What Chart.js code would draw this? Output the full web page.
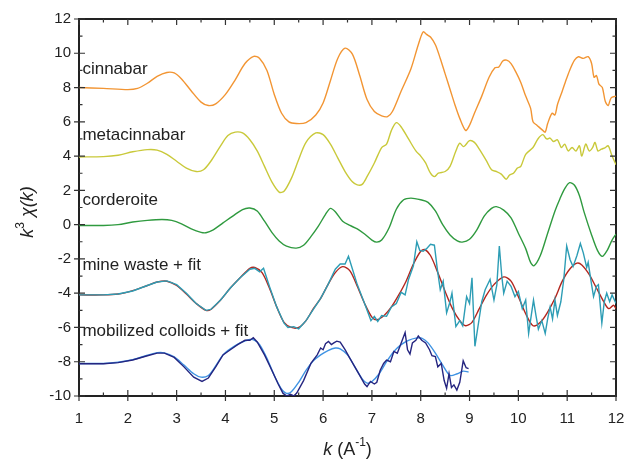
<!DOCTYPE html>
<html>
<head>
<meta charset="utf-8">
<script src="https://cdn.jsdelivr.net/npm/chart.js@4.4.1/dist/chart.umd.min.js"></script>
<style>
  html, body { margin: 0; padding: 0; background: #fff; }
  #wrap { width: 627px; height: 460px; }
</style>
</head>
<body>
<div id="wrap"><canvas id="chart" width="627" height="460"></canvas></div>
<script>
// ---- data ----
const xTicks = [1, 2, 3, 4, 5, 6, 7, 8, 9, 10, 11, 12];
const yTicks = [-10, -8, -6, -4, -2, 0, 2, 4, 6, 8, 10, 12];

const cinnabarK = [1.0, 1.5, 2.0, 2.2, 2.4, 2.6, 2.8, 2.95, 3.1, 3.3, 3.5, 3.65, 3.8, 4.0, 4.2, 4.4, 4.58, 4.7, 4.85, 5.0, 5.15, 5.3, 5.45, 5.65, 5.85, 6.0, 6.15, 6.3, 6.45, 6.6, 6.75, 6.9, 7.05, 7.2, 7.32, 7.42, 7.6, 7.8, 7.95, 8.05, 8.12, 8.2, 8.3, 8.4, 8.5, 8.6, 8.7, 8.8, 8.92, 9.0, 9.1, 9.25, 9.4, 9.52, 9.6, 9.68, 9.76, 9.85, 9.95, 10.05, 10.15, 10.25, 10.3, 10.38, 10.5, 10.55, 10.6, 10.69, 10.75, 10.8, 10.9, 10.96, 11.05, 11.15, 11.23, 11.33, 11.43, 11.5, 11.55, 11.6, 11.65, 11.72, 11.78, 11.84, 11.9, 12.0];
const cinnabarY = [8.0, 7.95, 7.88, 7.95, 8.25, 8.65, 8.88, 8.85, 8.5, 7.8, 7.15, 6.95, 7.05, 7.6, 8.45, 9.4, 9.82, 9.7, 9.0, 7.6, 6.5, 6.0, 5.9, 5.95, 6.4, 7.1, 8.4, 9.7, 10.3, 9.95, 8.7, 7.3, 6.6, 6.35, 6.3, 6.6, 7.8, 9.1, 10.5, 11.25, 11.1, 10.95, 10.5, 9.7, 8.8, 7.9, 7.0, 6.2, 5.5, 5.8, 6.5, 7.5, 8.6, 9.15, 9.2, 9.55, 9.6, 9.4, 8.9, 8.3, 7.5, 6.8, 6.0, 5.8, 5.5, 5.4, 5.9, 6.5, 6.4, 7.0, 7.8, 8.3, 9.0, 9.6, 9.8, 9.7, 9.8, 9.4, 8.6, 8.7, 8.2, 8.0, 7.2, 6.95, 7.4, 7.5];

const metaK = [1.0, 1.5, 1.8, 2.1, 2.4, 2.6, 2.8, 3.0, 3.2, 3.4, 3.55, 3.7, 3.9, 4.05, 4.2, 4.35, 4.5, 4.65, 4.8, 4.95, 5.1, 5.2, 5.35, 5.5, 5.65, 5.85, 6.0, 6.15, 6.3, 6.45, 6.6, 6.7, 6.8, 6.9, 7.05, 7.2, 7.3, 7.4, 7.5, 7.6, 7.75, 7.9, 8.0, 8.1, 8.2, 8.28, 8.36, 8.5, 8.6, 8.72, 8.8, 8.88, 9.0, 9.1, 9.2, 9.35, 9.45, 9.55, 9.65, 9.75, 9.82, 9.9, 9.98, 10.05, 10.15, 10.3, 10.4, 10.5, 10.58, 10.65, 10.72, 10.8, 10.88, 10.95, 11.02, 11.1, 11.18, 11.25, 11.3, 11.38, 11.45, 11.52, 11.57, 11.63, 11.7, 11.78, 11.84, 11.92, 12.0];
const metaY = [3.95, 3.97, 4.05, 4.25, 4.38, 4.35, 4.1, 3.7, 3.3, 3.1, 3.2, 3.7, 4.6, 5.2, 5.4, 5.35, 4.95, 4.3, 3.4, 2.5, 1.9, 1.95, 2.7, 3.8, 4.8, 5.35, 5.25, 4.7, 3.9, 3.1, 2.5, 2.32, 2.35, 2.8, 3.6, 4.5, 4.7, 5.5, 5.95, 5.7, 5.0, 4.3, 4.0, 3.6, 3.0, 2.8, 3.0, 3.1, 3.4, 4.3, 4.75, 4.55, 4.9, 4.8, 4.4, 3.7, 3.2, 3.1, 2.95, 2.65, 2.9, 3.0, 3.3, 3.4, 4.1, 4.5, 5.0, 5.25, 5.0, 5.05, 4.85, 4.95, 4.5, 4.7, 4.3, 4.5, 4.3, 4.6, 4.0, 4.7, 4.3, 4.5, 4.8, 4.3, 4.4, 4.5, 4.6, 4.0, 3.5];

const cordK = [1.0, 1.5, 1.8, 2.1, 2.4, 2.7, 2.9, 3.1, 3.3, 3.5, 3.6, 3.75, 3.95, 4.15, 4.35, 4.5, 4.65, 4.8, 4.95, 5.1, 5.25, 5.45, 5.6, 5.75, 5.9, 6.05, 6.15, 6.25, 6.4, 6.55, 6.7, 6.85, 7.0, 7.1, 7.2, 7.35, 7.5, 7.65, 7.8, 8.0, 8.15, 8.3, 8.45, 8.6, 8.75, 8.85, 9.0, 9.15, 9.3, 9.45, 9.55, 9.7, 9.85, 10.0, 10.15, 10.25, 10.32, 10.45, 10.6, 10.75, 10.85, 10.95, 11.05, 11.15, 11.25, 11.35, 11.5, 11.62, 11.72, 11.82, 11.92, 12.0];
const cordY = [-0.05, -0.05, 0.0, 0.15, 0.25, 0.3, 0.25, 0.05, -0.25, -0.45, -0.47, -0.3, 0.1, 0.5, 0.88, 0.97, 0.8, 0.2, -0.45, -0.95, -1.25, -1.37, -1.2, -0.7, -0.1, 0.6, 0.95, 0.75, 0.2, -0.05, -0.25, -0.55, -0.9, -1.02, -0.9, -0.2, 0.9, 1.45, 1.55, 1.45, 1.3, 0.8, 0.0, -0.6, -0.95, -1.02, -0.85, -0.3, 0.5, 0.95, 1.05, 0.85, 0.4, -0.5, -1.4, -2.2, -2.4, -1.8, -0.5, 0.8, 1.5, 2.1, 2.45, 2.3, 1.7, 0.7, -0.6, -1.5, -1.85, -1.5, -0.9, -0.55];

const wasteK = [1.0, 1.5, 1.8, 2.1, 2.4, 2.6, 2.8, 3.0, 3.2, 3.4, 3.6, 3.7, 3.9, 4.1, 4.3, 4.5, 4.6, 4.7, 4.78, 4.9, 5.05, 5.2, 5.28, 5.4, 5.5, 5.65, 5.8, 5.95, 6.1, 6.25, 6.35, 6.45, 6.52, 6.58, 6.7, 6.85, 6.98, 7.05, 7.12, 7.2, 7.3, 7.4, 7.5, 7.6, 7.68, 7.75, 7.85, 7.92, 7.98, 8.05, 8.12, 8.2, 8.28, 8.34, 8.4, 8.46, 8.53, 8.6, 8.64, 8.72, 8.8, 8.86, 8.94, 9.0, 9.05, 9.11, 9.18, 9.25, 9.32, 9.42, 9.5, 9.56, 9.61, 9.66, 9.7, 9.77, 9.85, 9.93, 10.0, 10.08, 10.15, 10.21, 10.31, 10.36, 10.41, 10.48, 10.55, 10.6, 10.65, 10.7, 10.75, 10.8, 10.87, 10.93, 10.99, 11.06, 11.12, 11.2, 11.27, 11.33, 11.4, 11.43, 11.5, 11.54, 11.6, 11.64, 11.71, 11.76, 11.81, 11.87, 11.92, 12.0];
const wasteY = [-4.1, -4.1, -4.05, -3.87, -3.55, -3.35, -3.28, -3.5, -4.0, -4.6, -5.0, -4.95, -4.4, -3.7, -3.1, -2.6, -2.55, -2.75, -2.55, -3.6, -4.8, -5.75, -6.0, -5.95, -6.08, -5.6, -4.95, -4.3, -3.5, -2.6, -2.3, -2.3, -1.85, -2.4, -3.5, -4.6, -5.6, -5.35, -5.65, -5.3, -5.35, -4.8, -4.6, -3.95, -4.1, -3.2, -2.4, -1.0, -1.5, -1.55, -1.4, -1.15, -1.2, -2.6, -3.8, -3.3, -5.15, -4.5, -4.0, -5.95, -5.6, -5.9, -4.2, -4.6, -3.1, -7.1, -5.8, -4.5, -3.8, -3.2, -4.4, -3.5, -1.25, -3.0, -4.0, -3.3, -3.6, -4.2, -3.9, -4.9, -4.4, -6.35, -4.4, -5.3, -6.1, -5.6, -6.35, -5.5, -4.8, -5.5, -4.4, -5.3, -4.5, -3.2, -1.25, -2.05, -2.45, -1.8, -1.1, -1.65, -2.5, -2.2, -3.5, -4.2, -3.6, -3.5, -5.75, -4.5, -4.0, -4.5, -4.1, -4.6];

const wasteFitK = [1.0, 1.5, 1.8, 2.1, 2.4, 2.6, 2.8, 3.0, 3.2, 3.4, 3.6, 3.7, 3.9, 4.1, 4.3, 4.5, 4.6, 4.75, 4.9, 5.05, 5.2, 5.35, 5.5, 5.65, 5.8, 5.95, 6.1, 6.25, 6.4, 6.55, 6.7, 6.85, 7.0, 7.1, 7.25, 7.4, 7.55, 7.7, 7.85, 8.0, 8.08, 8.2, 8.35, 8.5, 8.65, 8.8, 8.92, 9.05, 9.2, 9.35, 9.5, 9.7, 9.85, 10.0, 10.15, 10.3, 10.45, 10.6, 10.75, 10.9, 11.05, 11.2, 11.3, 11.45, 11.6, 11.75, 11.85, 11.95, 12.0];
const wasteFitY = [-4.1, -4.1, -4.05, -3.85, -3.55, -3.35, -3.3, -3.55, -4.05, -4.6, -5.0, -4.95, -4.4, -3.7, -3.1, -2.55, -2.5, -2.8, -3.7, -4.8, -5.7, -6.0, -6.0, -5.6, -4.9, -4.3, -3.5, -2.8, -2.45, -2.7, -3.6, -4.6, -5.4, -5.55, -5.3, -4.8, -4.1, -3.3, -2.3, -1.55, -1.45, -1.8, -2.8, -3.9, -4.9, -5.6, -5.9, -5.7, -4.9, -4.1, -3.5, -3.05, -3.3, -4.2, -5.2, -5.9, -5.7, -5.1, -4.3, -3.3, -2.6, -2.25, -2.35, -2.9, -3.7, -4.5, -4.9, -4.7, -4.9];

const colloidK = [1.0, 1.5, 1.8, 2.1, 2.4, 2.6, 2.75, 2.95, 3.15, 3.35, 3.52, 3.65, 3.8, 3.95, 4.1, 4.25, 4.4, 4.5, 4.57, 4.65, 4.8, 4.95, 5.08, 5.18, 5.26, 5.33, 5.4, 5.46, 5.6, 5.75, 5.88, 5.95, 6.0, 6.05, 6.11, 6.17, 6.22, 6.28, 6.35, 6.45, 6.55, 6.65, 6.75, 6.85, 6.9, 6.97, 7.05, 7.1, 7.17, 7.24, 7.3, 7.38, 7.45, 7.52, 7.6, 7.68, 7.73, 7.78, 7.83, 7.9, 7.95, 8.02, 8.1, 8.18, 8.23, 8.3, 8.35, 8.42, 8.48, 8.53, 8.58, 8.63, 8.68, 8.74, 8.8, 8.87, 8.93, 8.98];
const colloidY = [-8.12, -8.12, -8.05, -7.9, -7.65, -7.5, -7.5, -7.75, -8.3, -8.9, -9.15, -8.95, -8.3, -7.6, -7.3, -7.0, -6.75, -6.75, -6.6, -6.85, -7.6, -8.5, -9.3, -9.85, -10.0, -9.9, -10.0, -9.83, -9.1, -8.1, -7.6, -7.2, -7.3, -6.95, -6.82, -7.0, -6.9, -6.8, -6.85, -7.3, -7.8, -8.3, -8.8, -9.3, -9.45, -9.15, -9.3, -9.2, -8.5, -8.1, -7.9, -8.0, -7.4, -7.5, -6.9, -6.3, -7.3, -7.55, -6.9, -6.75, -6.5, -6.75, -6.9, -7.3, -7.65, -7.7, -8.3, -8.1, -9.1, -9.55, -8.7, -9.5, -9.35, -9.65, -9.2, -7.95, -8.35, -8.4];

const colloidFitK = [1.0, 1.5, 1.8, 2.1, 2.4, 2.6, 2.75, 2.95, 3.15, 3.35, 3.5, 3.65, 3.8, 3.95, 4.1, 4.3, 4.5, 4.6, 4.7, 4.85, 5.0, 5.15, 5.25, 5.35, 5.5, 5.65, 5.8, 5.95, 6.1, 6.25, 6.35, 6.5, 6.65, 6.8, 6.9, 7.0, 7.15, 7.3, 7.45, 7.6, 7.75, 7.9, 8.02, 8.15, 8.3, 8.45, 8.6, 8.75, 8.87, 8.98];
const colloidFitY = [-8.1, -8.1, -8.03, -7.88, -7.62, -7.47, -7.48, -7.72, -8.2, -8.7, -8.9, -8.8, -8.25, -7.6, -7.25, -6.9, -6.7, -6.75, -7.0, -7.8, -8.8, -9.6, -9.85, -9.75, -9.2, -8.5, -7.95, -7.6, -7.35, -7.2, -7.25, -7.6, -8.3, -9.0, -9.25, -9.15, -8.7, -8.0, -7.4, -7.0, -6.75, -6.62, -6.62, -6.9, -7.5, -8.2, -8.8, -8.7, -8.55, -8.6];

const curveLabels = ["cinnabar", "metacinnabar", "corderoite", "mine waste + fit", "mobilized colloids + fit"];
const labelYs = [9.05, 5.2, 1.4, -2.4, -6.2];

// ---- build datasets ----
function pts(xs, ys) { return xs.map((x, i) => ({ x: x, y: ys[i] })); }
function line(name, xs, ys, color, tension) {
  return { label: name, data: pts(xs, ys), borderColor: color, borderWidth: 1.4,
           pointRadius: 0, showLine: true, fill: false, tension: tension };
}
const datasets = [
  line("cinnabar", cinnabarK, cinnabarY, "#f29533", 0.3),
  line("metacinnabar", metaK, metaY, "#c9c93a", 0.3),
  line("corderoite", cordK, cordY, "#2f9a3f", 0.3),
  line("mine waste", wasteK, wasteY, "#2d9db5", 0),
  line("mine waste fit", wasteFitK, wasteFitY, "#b3261e", 0.3),
  line("mobilized colloids", colloidK, colloidY, "#252580", 0),
  line("mobilized colloids fit", colloidFitK, colloidFitY, "#3f93e3", 0.3)
];

// tick marks, curve labels and axis titles
const decorations = {
  id: "decorations",
  afterDraw(chart) {
    const ctx = chart.ctx;
    const a = chart.chartArea;
    const xs = chart.scales.x, ys = chart.scales.y;
    ctx.save();
    ctx.strokeStyle = "#333";
    ctx.lineWidth = 1.2;
    ctx.beginPath();
    for (let v = 1; v <= 12.001; v += 0.5) {
      const px = xs.getPixelForValue(v);
      const major = Math.abs(v - Math.round(v)) < 0.01;
      const len = major ? 6 : 3.5;
      ctx.moveTo(px, a.bottom + (major ? 5 : 0)); ctx.lineTo(px, a.bottom - len);
      ctx.moveTo(px, a.top); ctx.lineTo(px, a.top + len);
    }
    for (let v = -10; v <= 12; v += 1) {
      const py = ys.getPixelForValue(v);
      const major = v % 2 === 0;
      const len = major ? 6 : 3.5;
      ctx.moveTo(a.left - (major ? 5 : 0), py); ctx.lineTo(a.left + len, py);
      ctx.moveTo(a.right, py); ctx.lineTo(a.right - len, py);
    }
    ctx.stroke();

    // curve names
    ctx.fillStyle = "#222";
    ctx.font = "17px 'Liberation Sans', Arial, sans-serif";
    ctx.textBaseline = "middle";
    ctx.textAlign = "left";
    curveLabels.forEach((t, i) => {
      ctx.fillText(t, xs.getPixelForValue(1.07), ys.getPixelForValue(labelYs[i]));
    });

    // x title: k (A^-1)
    const it = "italic 18px 'Liberation Sans', Arial, sans-serif";
    const rg = "18px 'Liberation Sans', Arial, sans-serif";
    const sm = "12px 'Liberation Sans', Arial, sans-serif";
    function drawParts(list, cx, cy) {
      let w = 0;
      list.forEach(p => { ctx.font = p[0]; w += ctx.measureText(p[1]).width; });
      let x = cx - w / 2;
      list.forEach(p => { ctx.font = p[0]; ctx.fillText(p[1], x, cy + p[2]); x += ctx.measureText(p[1]).width; });
    }
    drawParts([[it, "k", 0], [rg, " (A", 0], [sm, "-1", -7], [rg, ")", 0]], (a.left + a.right) / 2, 450);

    // y title: k^3 chi(k)
    ctx.save();
    ctx.translate(28, 212);
    ctx.rotate(-Math.PI / 2);
    drawParts([[it, "k", 0], [sm, "3", -7], [rg, " ", 0], [it, "\u03c7(k)", 0]], 0, 0);
    ctx.restore();
    ctx.restore();
  }
};

const frameBorder = { display: true, color: "#222", width: 2 };
const labelFont = { size: 15, family: "'Liberation Sans', Arial, sans-serif" };

new Chart(document.getElementById("chart"), {
  type: "scatter",
  data: { datasets: datasets },
  options: {
    responsive: false,
    animation: false,
    layout: { autoPadding: false, padding: { left: 0, right: 11, top: 19, bottom: 0 } },
    plugins: { legend: { display: false }, tooltip: { enabled: false } },
    scales: {
      x: {
        type: "linear", position: "bottom", min: 1, max: 12,
        afterFit: s => { s.height = 64; s.paddingLeft = 0; s.paddingRight = 0; },
        afterBuildTicks: s => { s.ticks = xTicks.map(v => ({ value: v })); },
        grid: { display: true, drawOnChartArea: false, drawTicks: false, color: "rgba(0,0,0,0)" },
        border: frameBorder,
        ticks: { padding: 14, color: "#222", font: labelFont, maxRotation: 0 }
      },
      xTop: {
        type: "linear", position: "top", min: 1, max: 12,
        afterFit: s => { s.height = 0; s.paddingLeft = 0; s.paddingRight = 0; },
        grid: { display: true, drawOnChartArea: false, drawTicks: false, color: "rgba(0,0,0,0)" },
        border: frameBorder,
        ticks: { display: false }
      },
      y: {
        type: "linear", position: "left", min: -10, max: 12,
        afterFit: s => { s.width = 79; s.paddingTop = 0; s.paddingBottom = 0; },
        afterBuildTicks: s => { s.ticks = yTicks.map(v => ({ value: v })); },
        grid: { display: true, drawOnChartArea: false, drawTicks: false, color: "rgba(0,0,0,0)" },
        border: frameBorder,
        ticks: { padding: 8, color: "#222", font: labelFont }
      },
      yRight: {
        type: "linear", position: "right", min: -10, max: 12,
        afterFit: s => { s.width = 0; s.paddingTop = 0; s.paddingBottom = 0; },
        grid: { display: true, drawOnChartArea: false, drawTicks: false, color: "rgba(0,0,0,0)" },
        border: frameBorder,
        ticks: { display: false }
      }
    }
  },
  plugins: [decorations]
});
</script>
</body>
</html>
